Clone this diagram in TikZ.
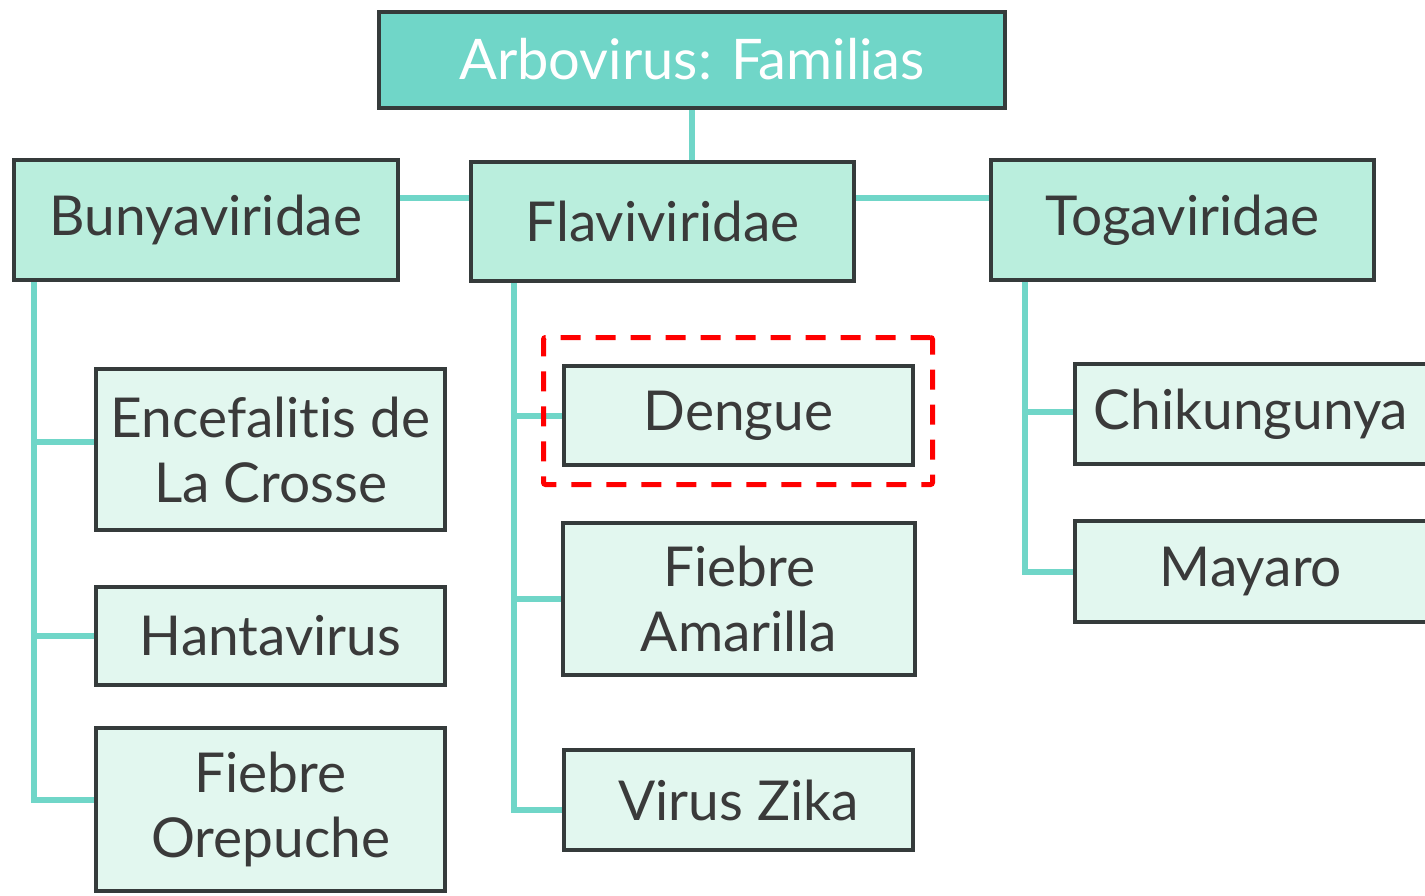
\documentclass[tikz,border=0pt]{standalone}
\usepackage{fontspec}
\setmainfont{Lato}[Ligatures={NoCommon}]
\usetikzlibrary{backgrounds}
\definecolor{teal1}{HTML}{70D6C8}
\definecolor{famfill}{HTML}{BAEEDD}
\definecolor{leaffill}{HTML}{E2F7EF}
\definecolor{edge}{HTML}{353B3B}
\definecolor{txt}{HTML}{3A3A3A}
\definecolor{hlred}{HTML}{FF0000}
\begin{document}
\begin{tikzpicture}[x=1pt,y=-1pt,
  box/.style={draw=edge,line width=4pt,rectangle,inner sep=0pt,align=center,
    text=txt,font=\fontsize{55}{65}\selectfont},
  titlebox/.style={box,fill=teal1,text=white,font=\fontsize{56}{66}\selectfont},
  fambox/.style={box,fill=famfill},
  leafbox/.style={box,fill=leaffill},
  link/.style={draw=teal1,line width=6pt},
  hlbox/.style={draw=hlred,line width=5pt,dash pattern=on 20pt off 15pt,rounded corners=2pt,rectangle,inner sep=0pt}]
\useasboundingbox (0,0) rectangle (1425,896);
\clip (0,0) rectangle (1425,896);
\node[titlebox,minimum width=626,minimum height=96] (title) at (692,60) {\raisebox{2pt}{Arbovirus: Familias}};
\node[fambox,minimum width=384,minimum height=120] (bun) at (206,220) {Bunyaviridae};
\node[fambox,minimum width=383,minimum height=119] (fla) at (662.5,221.5) {Flaviviridae};
\node[fambox,minimum width=383,minimum height=120] (tog) at (1182.5,220) {Togaviridae};
\node[leafbox,minimum width=349,minimum height=161] (enc) at (270.5,449.5) {Encefalitis de\\La Crosse};
\node[leafbox,minimum width=349,minimum height=98] (han) at (270.5,636) {Hantavirus};
\node[leafbox,minimum width=349,minimum height=163] (ore) at (270.5,809.5) {Fiebre\\Orepuche};
\node[leafbox,minimum width=349,minimum height=99] (den) at (738.5,415.5) {Dengue};
\node[leafbox,minimum width=352,minimum height=152] (ama) at (739,599) {Fiebre\\Amarilla};
\node[leafbox,minimum width=349,minimum height=100] (zik) at (738.5,800) {Virus Zika};
\node[leafbox,minimum width=352,minimum height=100] (chi) at (1251,414) {Chikungunya};
\node[leafbox,minimum width=352,minimum height=101] (may) at (1251,571.5) {Mayaro};
\node[hlbox,minimum width=389,minimum height=147] (hl) at (738,411) {};
\coordinate (bt) at ([xshift=22]bun.south west);
\coordinate (ft) at ([xshift=-149]fla.south);
\coordinate (tt) at ([xshift=36]tog.south west);
\begin{scope}[on background layer]
\draw[link] (title.south) -- (title.south |- fla.north);
\draw[link] ([yshift=22]bun.east) -- ([yshift=22]bun.east -| fla.west);
\draw[link] ([yshift=23.5]fla.east) -- ([yshift=23.5]fla.east -| tog.west);
\draw[link] (bt) |- ([yshift=7.5]enc.west);
\draw[link] (bt) |- (han.west);
\draw[link] (bt) |- ([yshift=9.5]ore.west);
\draw[link] (ft) |- (den.west);
\draw[link] (ft) |- (ama.west);
\draw[link] (ft) |- ([yshift=-10]zik.west);
\draw[link] (tt) |- ([yshift=2]chi.west);
\draw[link] (tt) |- (may.west);
\end{scope}
\end{tikzpicture}
\end{document}
